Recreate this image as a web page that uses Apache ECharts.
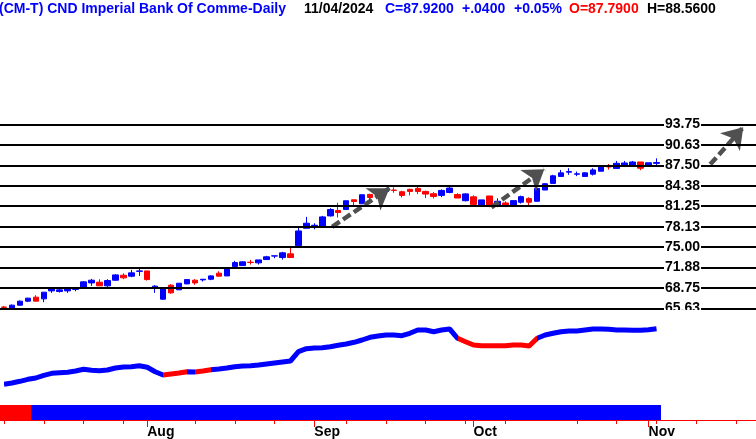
<!DOCTYPE html>
<html><head><meta charset="utf-8">
<script src="https://cdn.jsdelivr.net/npm/echarts@6/dist/echarts.min.js"></script>
<style>html,body{margin:0;padding:0;background:#fff}#c{width:756px;height:439px}</style>
</head><body><div id="c"></div>
<script>
// trading days (last 12 are future axis slots)
const dates = [
'2024-07-08','2024-07-09','2024-07-10','2024-07-11','2024-07-12','2024-07-15','2024-07-16','2024-07-17','2024-07-18','2024-07-19',
'2024-07-22','2024-07-23','2024-07-24','2024-07-25','2024-07-26','2024-07-29','2024-07-30','2024-07-31',
'2024-08-01','2024-08-02','2024-08-06','2024-08-07','2024-08-08','2024-08-09','2024-08-12','2024-08-13','2024-08-14','2024-08-15','2024-08-16',
'2024-08-19','2024-08-20','2024-08-21','2024-08-22','2024-08-23','2024-08-26','2024-08-27','2024-08-28','2024-08-29','2024-08-30',
'2024-09-03','2024-09-04','2024-09-05','2024-09-06','2024-09-09','2024-09-10','2024-09-11','2024-09-12','2024-09-13',
'2024-09-16','2024-09-17','2024-09-18','2024-09-19','2024-09-20','2024-09-23','2024-09-24','2024-09-25','2024-09-26','2024-09-27','2024-09-30',
'2024-10-01','2024-10-02','2024-10-03','2024-10-04','2024-10-07','2024-10-08','2024-10-09','2024-10-10','2024-10-11',
'2024-10-15','2024-10-16','2024-10-17','2024-10-18','2024-10-21','2024-10-22','2024-10-23','2024-10-24','2024-10-25',
'2024-10-28','2024-10-29','2024-10-30','2024-10-31','2024-11-01','2024-11-04',
'2024-11-05','2024-11-06','2024-11-07','2024-11-08','2024-11-11','2024-11-12','2024-11-13','2024-11-14','2024-11-15','2024-11-18','2024-11-19','2024-11-20'
];
const opens = [65.85,65.63,66.14,66.75,67.36,67.10,68.32,68.22,68.32,68.55,
68.78,69.54,69.65,69.09,69.95,70.71,70.56,71.30,71.37,68.73,
67.05,69.19,68.48,69.39,69.95,70.00,70.10,71.02,70.60,72.03,
72.18,72.70,72.60,73.10,73.64,73.41,73.98,75.22,77.88,78.24,
78.18,79.77,80.59,80.74,82.23,81.62,83.05,83.10,83.50,83.71,
83.46,83.82,83.97,83.51,83.15,82.90,83.34,83.03,82.09,82.68,
81.25,82.81,81.30,81.75,81.35,81.86,82.41,82.00,83.72,84.73,
85.79,86.44,86.14,85.79,86.14,86.59,87.30,87.00,87.50,87.50,
88.00,87.40,87.79];
const closes = [65.80,66.14,66.75,67.21,66.75,68.12,68.68,68.48,68.73,68.65,
69.70,69.95,69.09,69.90,70.76,70.31,71.07,71.37,70.05,69.04,
68.68,68.02,69.49,70.05,69.54,70.10,70.61,70.56,71.83,72.64,
72.75,72.65,73.05,73.52,73.67,74.13,73.41,77.47,78.65,78.34,
79.62,80.74,80.28,82.08,81.97,83.00,82.58,83.55,83.80,83.66,
82.90,83.51,83.51,83.10,82.74,83.66,84.02,82.50,83.13,81.52,
82.21,81.20,82.00,81.25,82.10,82.71,81.86,83.97,84.68,85.89,
86.34,86.54,86.19,86.34,86.79,87.25,87.25,87.80,87.85,88.00,
87.05,87.88,87.92];
const lows = [65.60,65.48,66.04,66.60,66.75,66.60,68.02,68.07,68.02,68.27,
68.68,69.09,69.09,68.93,69.85,70.10,70.41,70.61,69.90,68.02,
66.95,67.87,68.48,69.34,69.24,69.75,69.95,70.56,70.60,72.03,
72.18,72.34,72.34,73.10,73.31,73.10,73.41,75.22,77.88,77.72,
78.18,79.67,79.52,80.74,81.20,81.62,82.23,83.05,83.40,83.30,
82.59,82.90,83.10,82.49,82.43,82.64,83.23,82.50,81.98,81.35,
81.25,81.10,81.10,81.10,81.35,81.65,81.25,82.00,83.72,84.73,
85.79,86.04,85.84,85.79,85.94,86.59,86.84,87.00,87.50,87.45,
86.74,87.40,87.40];
const highs = [66.00,66.24,66.85,67.26,67.66,68.12,68.88,68.63,68.88,68.93,
69.80,70.15,70.10,70.10,70.86,71.00,71.52,71.83,71.37,69.19,
68.68,69.34,69.49,70.10,70.10,70.10,70.71,71.32,71.83,72.90,
72.85,73.05,73.05,73.67,73.67,74.28,74.95,78.13,79.62,78.65,
79.77,80.95,81.77,82.08,82.23,83.00,83.15,83.65,83.95,84.12,
83.61,83.92,84.28,83.61,83.41,83.82,84.28,83.23,83.23,82.92,
82.21,82.81,82.45,82.00,82.10,82.86,82.61,84.12,84.78,86.04,
86.79,87.05,86.54,86.44,87.05,87.25,87.70,88.16,88.16,88.16,
88.00,87.88,88.56];
// lower pane trend indicator (arbitrary units) and its state per bar
const trendLine = [11.7,13,14.7,16.7,18,20.7,22.7,23.3,23.7,25,
26.7,25.7,25.3,26,28,29,29.3,30.3,28.7,24.3,
21,22,23,24.3,24,25,26.3,27,28,29.3,
30,30.3,31,32,33,34,35,44.3,47.3,48,
48.3,49.3,50.7,52,53.7,56,58.7,60,61,61,
60.3,62.7,66,66,64.3,66,67,57.7,54.3,51,
50.3,50.3,50.3,50.3,51,51,50,57.7,61,62.7,
64.3,65,65,66,67,67,66.7,66,66,65.7,
65.7,66.3,67.3];
const trendState = 'UUUUUUUUUUUUUUUUUUUUDDDUDDUUUUUUUUUUUUUUUUUUUUUUUUUUUUUUUDDDDDDDDDDUUUUUUUUUUUUUUUU';
const stripState = 'DDDDUUUUUUUUUUUUUUUUUUUUUUUUUUUUUUUUUUUUUUUUUUUUUUUUUUUUUUUUUUUUUUUUUUUUUUUUUUUUUUU';
const priceTicks = [65.63,68.75,71.88,75.00,78.13,81.25,84.38,87.50,90.63,93.75];
// projection arrows: [startIndex, startPrice, endIndex, endPrice]
const arrows = [[41.25,78.11,48.45,84.0],[61.25,81.08,67.9,86.9],[88.75,87.64,92.9,93.3]];
const monthNames = ['Jan','Feb','Mar','Apr','May','Jun','Jul','Aug','Sep','Oct','Nov','Dec'];

const BLUE = '#0000ff', RED = '#ff0000', FONT = 'Liberation Sans';

const candleData = opens.map((o, i) => [o, closes[i], lows[i], highs[i]]);
const isMonthStart = (i) => i > 0 && dates[i].slice(5,7) !== dates[i-1].slice(5,7);
const isMonday = (i) => new Date(dates[i] + 'T12:00:00Z').getUTCDay() === 1;

const pieces = [];
let st = 0;
for (let i = 1; i <= trendState.length; i++) {
  if (i === trendState.length || trendState[i] !== trendState[st]) {
    pieces.push({gte: st - 0.5, lt: i - 0.5, color: trendState[st] === 'U' ? BLUE : RED});
    st = i;
  }
}

const head = (text, left, color) => ({text, left, top: 2, padding: 0,
  textStyle: {color, fontSize: 14, fontWeight: 'bold', fontFamily: FONT}});

const chart = echarts.init(document.getElementById('c'), null, {renderer: 'canvas'});
chart.setOption({
  animation: false,
  backgroundColor: '#fff',
  title: [
    head('(CM-T) CND Imperial Bank Of Comme-Daily', -1, BLUE),
    head('11/04/2024', 304, '#000'),
    head('C=87.9200', 385, BLUE),
    head('+.0400', 462, BLUE),
    head('+0.05%', 514, BLUE),
    head('O=87.7900', 569, RED),
    head('H=88.5600', 647, '#000')
  ],
  grid: [
    {left: -4, top: 22, width: 760, height: 307},
    {left: -4, top: 310, width: 760, height: 86, show: true, backgroundColor: '#fff', borderWidth: 0, z: 6},
    {left: -4, top: 405, width: 760, height: 15}
  ],
  xAxis: [
    {type: 'category', gridIndex: 0, data: dates, show: false},
    {type: 'value', gridIndex: 0, min: -0.5, max: dates.length - 0.5, show: false},
    {type: 'category', gridIndex: 1, data: dates, show: false},
    {type: 'category', gridIndex: 2, data: dates, position: 'bottom', z: 8,
      axisLine: {show: true, lineStyle: {color: RED, width: 1}},
      axisTick: {show: true, alignWithLabel: true, length: 4, interval: (i) => isMonday(i), lineStyle: {color: RED, width: 1}},
      axisLabel: {show: false}, splitLine: {show: false}},
    {type: 'category', gridIndex: 2, data: dates, position: 'bottom', z: 8,
      axisLine: {show: true, lineStyle: {color: RED, width: 1}},
      axisTick: {show: true, alignWithLabel: true, length: 7, interval: (i) => isMonthStart(i), lineStyle: {color: RED, width: 1}},
      axisLabel: {show: true, interval: (i) => isMonthStart(i), align: 'left', margin: 5,
        formatter: (v) => monthNames[+v.slice(5,7) - 1],
        color: '#000', fontSize: 14, fontWeight: 'bold', fontFamily: FONT},
      splitLine: {show: false}}
  ],
  yAxis: [
    {type: 'value', gridIndex: 0, min: 62.5, max: 109.375, interval: 3.125, position: 'right', offset: -92, z: 5,
      axisLine: {show: false}, axisTick: {show: false}, splitLine: {show: false},
      axisLabel: {margin: 0, color: '#000', fontSize: 14, fontWeight: 'bold', fontFamily: FONT,
        backgroundColor: '#fff', padding: [1, 1],
        formatter: (v) => { const t = priceTicks.find(p => Math.abs(p - v) < 0.01); return t === undefined ? '' : t.toFixed(2); }}},
    {type: 'value', gridIndex: 1, min: 0, max: 86, show: false},
    {type: 'value', gridIndex: 2, min: 0, max: 1, show: false}
  ],
  visualMap: [{type: 'piecewise', show: false, dimension: 0, seriesIndex: 2, pieces}],
  series: [
    {type: 'candlestick', xAxisIndex: 0, yAxisIndex: 0, data: candleData, barWidth: 6,
      itemStyle: {color: BLUE, color0: RED, borderColor: BLUE, borderColor0: RED, borderWidth: 1},
      markLine: {silent: true, symbol: 'none', animation: false,
        label: {show: false}, lineStyle: {color: '#000', width: 2, type: 'solid'},
        emphasis: {disabled: true},
        data: priceTicks.map(v => ({yAxis: v}))}},
    {type: 'lines', coordinateSystem: 'cartesian2d', xAxisIndex: 1, yAxisIndex: 0, z: 4,
      symbol: ['none', 'arrow'], symbolSize: 20,
      lineStyle: {color: '#505050', width: 4.5, type: [9, 4], opacity: 1},
      data: arrows.map(a => ({coords: [[a[0], a[1]], [a[2], a[3]]]}))},
    {type: 'line', xAxisIndex: 2, yAxisIndex: 1, data: trendLine, showSymbol: false, z: 10,
      lineStyle: {width: 5}, silent: true},
    {type: 'bar', xAxisIndex: 3, yAxisIndex: 2, barWidth: 9, barGap: '-100%', silent: true, large: false,
      data: stripState.split('').map(s => ({value: 1, itemStyle: {color: s === 'U' ? BLUE : RED}}))}
  ]
});
</script></body></html>
